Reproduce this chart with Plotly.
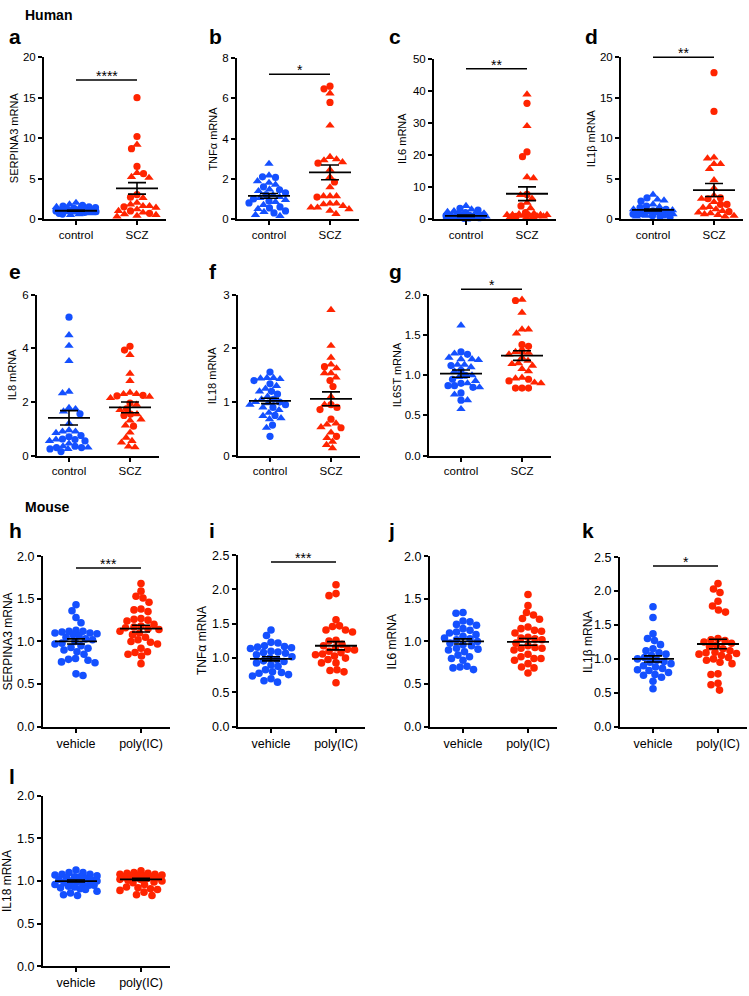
import numpy as np
import plotly.graph_objects as go

# ================= DATA =================
# Human panels: control / SCZ, split by marker shape (circle / triangle)
a_control_circle = [1.7, 1.6, 1.5, 1.4, 1.2, 1.1, 1.0, 0.9, 0.8, 0.7, 0.6, 1.3, 1.0, 0.9]
a_control_triangle = [2.0, 1.8, 1.5, 1.3, 1.1, 1.0, 0.9, 0.8, 0.7, 0.6, 0.5, 1.2, 0.95, 0.85]
a_scz_circle = [15.0, 10.2, 8.7, 6.5, 5.6, 3.0, 2.7, 1.5, 1.0, 0.7]
a_scz_triangle = [9.2, 5.7, 5.1, 5.2, 2.6, 1.8, 1.6, 1.4, 1.0, 0.8, 1.2, 0.5, 0.3, 1.6, 2.0, 0.6, 0.4]
a_mean = [1.02, 3.78]
a_sem = [0.06, 0.71]

b_control_circle = [2.1, 2.07, 1.6, 1.3, 1.0, 0.8, 0.6, 0.4, 0.3, 1.2, 0.9, 0.55, 1.45]
b_control_triangle = [2.75, 2.17, 1.88, 1.8, 1.71, 1.47, 1.39, 1.2, 1.05, 0.95, 0.85, 0.7, 0.5, 0.35, 0.2, 0.15, 1.1]
b_scz_circle = [6.61, 6.48, 5.8, 2.78, 1.84, 1.09]
b_scz_triangle = [6.25, 4.65, 3.09, 2.97, 2.92, 2.83, 2.45, 2.09, 1.58, 1.14, 1.14, 1.14,
                  0.77, 0.73, 0.57, 0.41, 0.49, 0.57, 0.65, 0.77, 0.25]
b_mean = [1.15, 2.32]
b_sem = [0.12, 0.37]

c_control_circle = [3.3, 2.8, 2.0, 1.3, 1.0, 0.8, 0.6, 0.5, 0.4, 0.3, 1.6, 0.7, 1.1, 0.2]
c_control_triangle = [4.1, 3.0, 2.5, 1.8, 1.2, 0.9, 0.7, 0.5, 0.4, 0.3, 1.5, 0.6, 0.8, 2.2]
c_scz_circle = [36.2, 21.0, 19.5, 7.7, 4.1, 2.0, 0.8]
c_scz_triangle = [39.0, 29.1, 13.1, 12.8, 7.5, 6.4, 5.1, 3.4, 1.3, 1.0, 1.5, 1.3, 1.7, 1.3, 1.3,
                  0.5, 0.5, 0.8, 0.6, 1.1, 0.9]
c_mean = [1.0, 7.9]
c_sem = [0.2, 2.15]

d_control_circle = [2.6, 2.2, 1.4, 1.0, 0.8, 0.6, 0.5, 0.3, 1.2, 0.9, 0.7, 1.6, 0.4, 0.2]
d_control_triangle = [2.3, 3.0, 2.4, 1.5, 1.2, 0.9, 0.7, 0.5, 0.4, 1.1, 0.8, 0.6, 1.8, 0.3]
d_scz_circle = [18.1, 13.3, 2.6, 1.8, 1.8, 2.5, 0.9]
d_scz_triangle = [7.6, 7.5, 6.8, 6.8, 6.2, 4.8, 3.8, 2.5, 2.1, 1.5, 1.2, 1.0, 0.8, 0.6, 0.5,
                  0.4, 0.3, 1.4, 0.7, 2.9]
d_mean = [1.12, 3.58]
d_sem = [0.12, 0.8]

e_control_circle = [5.17, 1.56, 0.75, 0.62, 0.6, 0.7, 0.3, 0.3, 0.15, 0.25, 0.55, 0.35]
e_control_triangle = [4.5, 4.1, 3.53, 2.39, 2.33, 1.78, 1.74, 1.65, 1.2, 0.95, 0.9, 0.85, 0.9,
                      0.6, 0.35, 0.3, 0.25, 0.45, 0.55]
e_scz_circle = [4.08, 3.94, 2.23, 1.96, 1.55, 1.1, 2.25, 1.5, 1.75]
e_scz_triangle = [3.76, 3.06, 2.79, 2.35, 2.3, 2.3, 2.2, 2.15, 1.7, 1.55, 1.35, 1.31, 1.13,
                  0.86, 0.67, 0.55, 0.49, 0.34, 0.31, 1.9]
e_mean = [1.41, 1.8]
e_sem = [0.27, 0.2]

f_control_circle = [1.56, 1.4, 1.34, 1.15, 1.0, 0.9, 0.75, 0.57, 0.36, 1.05, 0.95, 1.2]
f_control_triangle = [1.45, 1.45, 1.44, 1.43, 1.3, 1.25, 1.2, 1.1, 1.05, 0.98, 0.95, 0.9,
                      0.85, 0.8, 0.74, 0.7, 0.68, 0.52, 1.0]
f_scz_circle = [1.66, 1.4, 1.29, 0.95, 0.86, 0.68, 0.52, 0.36, 0.9]
f_scz_triangle = [2.72, 2.05, 1.83, 1.7, 1.63, 1.54, 1.54, 1.46, 1.1, 0.95, 0.6, 0.53, 0.58,
                  0.43, 0.33, 0.26, 0.14, 0.2]
f_mean = [1.02, 1.06]
f_sem = [0.05, 0.13]

g_control_circle = [1.29, 1.26, 1.06, 0.95, 0.87, 0.87, 0.9, 0.85, 0.78, 0.69, 1.12, 1.0]
g_control_triangle = [1.62, 1.27, 1.22, 1.2, 1.19, 1.2, 1.13, 1.1, 1.13, 1.05, 1.0, 0.98,
                      0.93, 0.9, 0.85, 0.76, 0.69, 0.58]
g_scz_circle = [1.93, 1.36, 1.38, 1.3, 0.95, 0.93, 0.84, 0.84, 0.84]
g_scz_triangle = [1.94, 1.78, 1.57, 1.52, 1.57, 1.29, 1.28, 1.26, 1.18, 1.15, 1.12, 1.14,
                  1.08, 1.05, 0.96, 0.97, 0.9, 0.91, 1.22]
g_mean = [1.02, 1.245]
g_sem = [0.045, 0.06]

# Mouse panels: vehicle / poly(IC)
h_vehicle = [1.43, 1.36, 1.28, 1.22, 1.13, 1.12, 1.12, 1.11, 1.1, 1.1, 1.09, 1.08, 1.05, 1.03,
             1.0, 0.98, 0.97, 0.95, 0.93, 0.92, 0.9, 0.88, 0.85, 0.8, 0.79, 0.78, 0.76, 0.75,
             0.62, 0.6, 1.07, 1.02]
h_polyic = [1.68, 1.59, 1.53, 1.51, 1.46, 1.38, 1.37, 1.35, 1.27, 1.26, 1.25, 1.24, 1.2, 1.18,
            1.17, 1.16, 1.15, 1.14, 1.12, 1.1, 1.08, 1.05, 1.02, 1.0, 0.99, 0.97, 0.92, 0.88,
            0.87, 0.85, 0.83, 0.74]
h_mean = [1.0, 1.15]
h_sem = [0.03, 0.04]

i_vehicle = [1.41, 1.33, 1.23, 1.22, 1.18, 1.17, 1.16, 1.15, 1.14, 1.1, 1.09, 1.08, 1.07, 1.05,
             1.02, 1.0, 0.98, 0.96, 0.95, 0.93, 0.9, 0.88, 0.83, 0.8, 0.79, 0.78, 0.76, 0.74,
             0.7, 0.67, 0.65]
i_polyic = [2.07, 1.94, 1.91, 1.56, 1.47, 1.46, 1.41, 1.41, 1.38, 1.26, 1.25, 1.2, 1.18, 1.15,
            1.13, 1.12, 1.1, 1.08, 1.06, 1.05, 1.03, 1.0, 0.98, 0.93, 0.93, 0.83, 0.82, 0.8, 0.64]
i_mean = [0.99, 1.18]
i_sem = [0.03, 0.06]

j_vehicle = [1.34, 1.33, 1.24, 1.23, 1.2, 1.19, 1.15, 1.13, 1.11, 1.1, 1.08, 1.06, 1.04, 1.03,
             1.02, 1.0, 0.98, 0.96, 0.95, 0.92, 0.91, 0.9, 0.88, 0.84, 0.82, 0.8, 0.78, 0.71,
             0.7, 0.69, 0.67]
j_polyic = [1.55, 1.42, 1.34, 1.31, 1.27, 1.26, 1.17, 1.15, 1.13, 1.12, 1.1, 1.05, 1.04, 1.03,
            1.02, 0.98, 0.95, 0.93, 0.92, 0.92, 0.9, 0.85, 0.82, 0.8, 0.8, 0.78, 0.74, 0.7,
            0.69, 0.63]
j_mean = [1.0, 0.995]
j_sem = [0.03, 0.04]

k_vehicle = [1.77, 1.61, 1.37, 1.3, 1.27, 1.21, 1.15, 1.12, 1.09, 1.07, 1.05, 1.02, 1.0, 0.98,
             0.96, 0.95, 0.93, 0.9, 0.88, 0.86, 0.84, 0.83, 0.8, 0.77, 0.76, 0.73, 0.67, 0.56]
k_polyic = [2.11, 2.03, 1.98, 1.85, 1.78, 1.72, 1.69, 1.3, 1.28, 1.27, 1.25, 1.23, 1.2, 1.18,
            1.15, 1.12, 1.1, 1.09, 1.08, 1.07, 1.05, 1.02, 1.0, 0.98, 0.95, 0.93, 0.78, 0.77,
            0.64, 0.62, 0.54]
k_mean = [1.0, 1.22]
k_sem = [0.045, 0.07]

l_vehicle = [1.13, 1.1, 1.1, 1.08, 1.08, 1.07, 1.06, 1.05, 1.04, 1.03, 1.02, 1.01, 1.0, 1.0,
             0.99, 0.98, 0.97, 0.96, 0.95, 0.94, 0.93, 0.92, 0.91, 0.9, 0.88, 0.86, 0.84, 0.83,
             1.05, 0.95]
l_polyic = [1.12, 1.1, 1.09, 1.09, 1.08, 1.08, 1.07, 1.07, 1.06, 1.05, 1.05, 1.04, 1.03, 1.02,
            1.02, 1.01, 1.0, 0.99, 0.98, 0.96, 0.93, 0.92, 0.91, 0.9, 0.89, 0.87, 0.84, 0.83,
            1.06, 1.04]
l_mean = [1.0, 1.02]
l_sem = [0.012, 0.012]

human_groups = ["control", "SCZ"]
mouse_groups = ["vehicle", "poly(IC)"]

# ================= STYLE / LAYOUT =================
W, H = 749, 996
BLUE = "#1450ff"
RED = "#ff2400"
FONT = "Arial, Liberation Sans, Helvetica, sans-serif"

panels = [
    dict(letter="a", ylab="SERPINA3 mRNA", ymax=20, dtick=5, fmt="d", kind="h", L=44, top=51, bot=215, tdx=30,
         lx=7, ly=30, data=[(a_control_circle, a_control_triangle), (a_scz_circle, a_scz_triangle)],
         mean=a_mean, sem=a_sem, sig=("****", 17.2)),
    dict(letter="b", ylab="TNFα mRNA", ymax=8, dtick=2, fmt="d", kind="h", L=237, top=52, bot=215, tdx=24,
         lx=207, ly=30, data=[(b_control_circle, b_control_triangle), (b_scz_circle, b_scz_triangle)],
         mean=b_mean, sem=b_sem, sig=("*", 7.2)),
    dict(letter="c", ylab="IL6 mRNA", ymax=50, dtick=10, fmt="d", kind="h", L=434, top=53, bot=215, tdx=32,
         lx=387, ly=30, data=[(c_control_circle, c_control_triangle), (c_scz_circle, c_scz_triangle)],
         mean=c_mean, sem=c_sem, sig=("**", 47.0)),
    dict(letter="d", ylab="IL1β mRNA", ymax=20, dtick=5, fmt="d", kind="h", L=621, top=51, bot=215, tdx=30,
         lx=583, ly=30, data=[(d_control_circle, d_control_triangle), (d_scz_circle, d_scz_triangle)],
         mean=d_mean, sem=d_sem, sig=("**", 20.0)),
    dict(letter="e", ylab="IL8 mRNA", ymax=6, dtick=2, fmt="d", kind="h", L=37, top=292, bot=455, tdx=25,
         lx=7, ly=268, data=[(e_control_circle, e_control_triangle), (e_scz_circle, e_scz_triangle)],
         mean=e_mean, sem=e_sem, sig=None),
    dict(letter="f", ylab="IL18 mRNA", ymax=3, dtick=1, fmt="d", kind="h", L=238, top=292, bot=455, tdx=26,
         lx=207, ly=268, data=[(f_control_circle, f_control_triangle), (f_scz_circle, f_scz_triangle)],
         mean=f_mean, sem=f_sem, sig=None),
    dict(letter="g", ylab="IL6ST mRNA", ymax=2, dtick=0.5, fmt=".1f", kind="h", L=429, top=292, bot=455, tdx=32,
         lx=387, ly=268, data=[(g_control_circle, g_control_triangle), (g_scz_circle, g_scz_triangle)],
         mean=g_mean, sem=g_sem, sig=("*", 2.07)),
    dict(letter="h", ylab="SERPINA3 mRNA", ymax=2, dtick=0.5, fmt=".1f", kind="m", L=43, top=557, bot=730, tdx=35,
         lx=7, ly=531, data=[(h_vehicle,), (h_polyic,)], mean=h_mean, sem=h_sem, sig=("***", 1.86)),
    dict(letter="i", ylab="TNFα mRNA", ymax=2.5, dtick=0.5, fmt=".1f", kind="m", L=238, top=556, bot=730, tdx=36,
         lx=207, ly=531, data=[(i_vehicle,), (i_polyic,)], mean=i_mean, sem=i_sem, sig=("***", 2.4)),
    dict(letter="j", ylab="IL6 mRNA", ymax=2, dtick=0.5, fmt=".1f", kind="m", L=430, top=557, bot=730, tdx=38,
         lx=386, ly=531, data=[(j_vehicle,), (j_polyic,)], mean=j_mean, sem=j_sem, sig=None),
    dict(letter="k", ylab="IL1β mRNA", ymax=2.5, dtick=0.5, fmt=".1f", kind="m", L=620, top=558, bot=730, tdx=32,
         lx=580, ly=531, data=[(k_vehicle,), (k_polyic,)], mean=k_mean, sem=k_sem, sig=("*", 2.37)),
    dict(letter="l", ylab="IL18 mRNA", ymax=2, dtick=0.5, fmt=".1f", kind="m", L=43, top=800, bot=973, tdx=36,
         lx=7, ly=780, data=[(l_vehicle,), (l_polyic,)], mean=l_mean, sem=l_sem, sig=None),
]


def swarm(values, ppu_y, diam, max_half):
    """Beeswarm offsets in pixels for the given values."""
    vals = np.asarray(values, float)
    order = np.argsort(-vals, kind="stable")
    ypx = vals * ppu_y
    cand = np.arange(-max_half, max_half + 0.01, 0.5)
    cand = cand[np.argsort(np.abs(cand), kind="stable")]
    xs = np.zeros(len(vals))
    PX, PY = [], []
    for i in order:
        if not PX:
            xs[i] = 0.0
        else:
            px = np.array(PX)
            py = np.array(PY)
            d = np.sqrt((cand[:, None] - px[None, :]) ** 2 + (ypx[i] - py[None, :]) ** 2).min(axis=1)
            ok = np.where(d >= diam)[0]
            if len(ok):
                best = ok[0]
                xs[i] = cand[best]
                alt = -cand[best]
                da = np.sqrt((alt - px) ** 2 + (ypx[i] - py) ** 2).min()
                if da >= diam and np.sum(px < 0) > np.sum(px > 0):
                    xs[i] = abs(cand[best])
            else:
                xs[i] = cand[np.argmax(d)]
        PX.append(xs[i])
        PY.append(ypx[i])
    return xs


fig = go.Figure()
layout = dict(width=W, height=H, margin=dict(l=0, r=0, t=0, b=0), autosize=False,
              plot_bgcolor="rgba(0,0,0,0)", paper_bgcolor="white", showlegend=False,
              font=dict(family=FONT, color="black"))
annotations = []
n_panels = len(panels)

for k, p in enumerate(panels, start=1):
    human = p["kind"] == "h"
    L = p["L"]
    if human:
        cat0, cat1, end = L + 32, L + 93, L + 122
        groups = human_groups
        tick_size, title_size = 11.5, 11
        diam, maxhalf, hwpx = 6.5, 20, 21
    else:
        cat0, cat1, end = L + 33, L + 98, L + 127
        groups = mouse_groups
        tick_size, title_size = 12.5, 12
        diam, maxhalf, hwpx = 7.0, 21, 21
    unit = cat1 - cat0
    x_lo = -(cat0 - L) / unit
    x_hi = 1 + (end - cat1) / unit
    ppu_y = (p["bot"] - p["top"]) / p["ymax"]

    xn = "x" if k == 1 else f"x{k}"
    yn = "y" if k == 1 else f"y{k}"
    xk = "xaxis" if k == 1 else f"xaxis{k}"
    yk = "yaxis" if k == 1 else f"yaxis{k}"

    tickvals = list(np.arange(0, p["ymax"] + p["dtick"] / 2, p["dtick"]))
    if p["fmt"] == "d":
        ticktext = [f"{v:g}" for v in tickvals]
    else:
        ticktext = [f"{v:.1f}" for v in tickvals]

    layout[xk] = dict(domain=[L / W, end / W], anchor=yn, range=[x_lo, x_hi],
                      tickvals=[0, 1], ticktext=groups, showline=True, linewidth=2, linecolor="black",
                      ticks="outside", ticklen=4, tickwidth=1.5, tickcolor="black",
                      showgrid=False, zeroline=False, tickfont=dict(size=tick_size, family=FONT, color="black"))
    layout[yk] = dict(domain=[1 - p["bot"] / H, 1 - p["top"] / H], anchor=xn, range=[0, p["ymax"]],
                      tickvals=tickvals, ticktext=ticktext, showline=True, linewidth=2, linecolor="black",
                      ticks="outside", ticklen=4, tickwidth=1.5, tickcolor="black",
                      showgrid=False, zeroline=False, tickfont=dict(size=tick_size, family=FONT, color="black"))

    # points
    for g, parts in enumerate(p["data"]):
        color = BLUE if g == 0 else RED
        vals, syms, sizes = [], [], []
        for si, part in enumerate(parts):
            vals += list(part)
            if si == 0:
                syms += ["circle"] * len(part)
                sizes += [7.2 if human else 7.6] * len(part)
            else:
                syms += ["triangle-up"] * len(part)
                sizes += [8.2] * len(part)
        offs = swarm(vals, ppu_y, diam, maxhalf)
        fig.add_trace(go.Scatter(x=g + offs / unit, y=vals, mode="markers", xaxis=xn, yaxis=yn,
                                 marker=dict(symbol=syms, size=sizes, color=color, opacity=1,
                                             line=dict(width=0)),
                                 cliponaxis=False, hoverinfo="skip"))

    # mean lines and SEM bars
    hw = hwpx / unit
    for g in range(2):
        m, s = p["mean"][g], p["sem"][g]
        fig.add_trace(go.Scatter(x=[g - hw, g + hw], y=[m, m], mode="lines", xaxis=xn, yaxis=yn,
                                 line=dict(color="black", width=1.8), cliponaxis=False, hoverinfo="skip"))
        fig.add_trace(go.Scatter(x=[g], y=[m], mode="markers", xaxis=xn, yaxis=yn,
                                 marker=dict(size=1, color="rgba(0,0,0,0)"),
                                 error_y=dict(type="data", array=[s], visible=True, width=9,
                                              thickness=1.6, color="black"),
                                 cliponaxis=False, hoverinfo="skip"))

    # significance bar, drawn on an invisible companion axis pair with the same
    # pixel scale but extended upward so that bars above the top tick stay visible
    if p["sig"] is not None:
        txt, sy = p["sig"]
        ext = 40  # px of extra room above the plot
        kk = k + n_panels
        xn2, yn2 = f"x{kk}", f"y{kk}"
        layout[f"xaxis{kk}"] = dict(domain=[L / W, end / W], anchor=yn2, range=[x_lo, x_hi], visible=False)
        layout[f"yaxis{kk}"] = dict(domain=[1 - p["bot"] / H, 1 - (p["top"] - ext) / H], anchor=xn2,
                                    range=[0, p["ymax"] + ext / ppu_y], visible=False)
        fig.add_trace(go.Scatter(x=[0, 1], y=[sy, sy], mode="lines", xaxis=xn2, yaxis=yn2,
                                 line=dict(color="black", width=1.5), hoverinfo="skip"))
        annotations.append(dict(x=0.5, y=sy, xref=xn2, yref=yn2, text=txt, showarrow=False,
                                xanchor="center", yanchor="middle", yshift=4,
                                font=dict(size=14, family=FONT, color="black")))

    # y-axis title
    annotations.append(dict(x=(L - p["tdx"]) / W, y=1 - (p["top"] + p["bot"]) / 2 / H, xref="paper", yref="paper",
                            text=p["ylab"], textangle=-90, showarrow=False, xanchor="center", yanchor="middle",
                            font=dict(size=title_size, family=FONT, color="black")))
    # panel letter
    annotations.append(dict(x=p["lx"] / W, y=1 - p["ly"] / H, xref="paper", yref="paper",
                            text=f"<b>{p['letter']}</b>", showarrow=False, xanchor="left", yanchor="middle",
                            font=dict(size=21, family=FONT, color="black")))

annotations.append(dict(x=23 / W, y=1 - 8 / H, xref="paper", yref="paper", text="<b>Human</b>",
                        showarrow=False, xanchor="left", yanchor="middle",
                        font=dict(size=14, family=FONT, color="black")))
annotations.append(dict(x=23 / W, y=1 - 507 / H, xref="paper", yref="paper", text="<b>Mouse</b>",
                        showarrow=False, xanchor="left", yanchor="middle",
                        font=dict(size=14, family=FONT, color="black")))

layout["annotations"] = annotations
fig.update_layout(**layout)
fig.write_html("out.html", config={"displayModeBar": False},
               post_script="document.body.style.margin='0px';document.body.style.overflow='hidden';")
